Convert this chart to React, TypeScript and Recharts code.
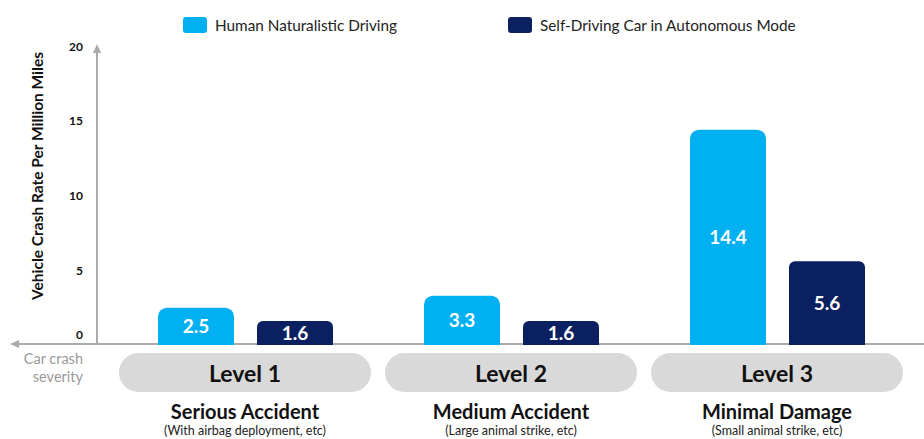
import React from 'react';
import { BarChart, Bar, XAxis, YAxis, Legend, LabelList } from 'recharts';

const levels = ['Level 1', 'Level 2', 'Level 3'];
const titles = ['Serious Accident', 'Medium Accident', 'Minimal Damage'];
const subtitles = ['(With airbag deployment, etc)', '(Large animal strike, etc)', '(Small animal strike, etc)'];
const humanRates = [2.5, 3.3, 14.4];
const selfDrivingRates = [1.6, 1.6, 5.6];
const yTicks = [0, 5, 10, 15, 20];
const seriesNames = ['Human Naturalistic Driving', 'Self-Driving Car in Autonomous Mode'];

const LIGHT = '#00B0F0';
const DARK = '#0B2060';
const AXIS = '#AAAAAA';
const FONT = 'Lato, "Open Sans", sans-serif';

const data = levels.map((l, i) => ({
  level: l,
  title: titles[i],
  subtitle: subtitles[i],
  human: humanRates[i],
  self: selfDrivingRates[i],
}));

const XTick = (props: any) => {
  const { x, y, payload, index } = props;
  const d = data[index] || data.find((r) => r.level === payload.value);
  return (
    <g>
      <rect x={x - 126} y={y + 8} width={252} height={39} rx={19.5} ry={19.5} fill="#D9D9D9" />
      <text x={x} y={y + 28} textAnchor="middle" dominantBaseline="central" fontSize={23} fontWeight={700} fill="#111" fontFamily={FONT}>
        {payload.value}
      </text>
      <text x={x} y={y + 66} textAnchor="middle" dominantBaseline="central" fontSize={20} fontWeight={700} fill="#111" fontFamily={FONT}>
        {d ? d.title : ''}
      </text>
      <text x={x} y={y + 85} textAnchor="middle" dominantBaseline="central" fontSize={12.5} fill="#222" fontFamily={FONT}>
        {d ? d.subtitle : ''}
      </text>
    </g>
  );
};

const YTick = (props: any) => {
  const { x, y, payload } = props;
  const dy = payload.value === 0 ? -11 : 0;
  return (
    <text x={x} y={y + dy} textAnchor="end" dominantBaseline="central" fontSize={12} fontWeight={700} fill="#111" fontFamily={FONT}>
      {payload.value}
    </text>
  );
};

const LegendContent = () => (
  <div style={{ position: 'relative', width: 924, height: 30, fontFamily: FONT }}>
    {[{ left: 183, color: LIGHT, name: seriesNames[0] }, { left: 508, color: DARK, name: seriesNames[1] }].map((it) => (
      <div key={it.name} style={{ position: 'absolute', left: it.left, top: 0, display: 'flex', alignItems: 'center', height: 16 }}>
        <div style={{ width: 24, height: 16, borderRadius: 3, background: it.color, marginRight: 8 }} />
        <span style={{ fontSize: 15.3, color: '#222', lineHeight: '16px', whiteSpace: 'nowrap' }}>{it.name}</span>
      </div>
    ))}
  </div>
);

export default function App() {
  return (
    <div style={{ position: 'absolute', left: 0, top: 0, background: '#fff' }}>
      <BarChart
        width={924}
        height={439}
        data={data}
        margin={{ top: 46, right: 0, bottom: 0, left: 0 }}
        barSize={76}
        barGap={23}
      >
        <Legend
          verticalAlign="middle"
          align="center"
          layout="horizontal"
          content={<LegendContent />}
          wrapperStyle={{ top: 17, left: 0, width: 924 }}
        />
        <XAxis
          dataKey="level"
          axisLine={false}
          tickLine={false}
          tickSize={0}
          tickMargin={0}
          height={94}
          padding={{ left: 15, right: 14 }}
          tick={<XTick />}
          interval={0}
        />
        <YAxis
          domain={[0, 20]}
          ticks={yTicks}
          width={97}
          axisLine={false}
          tickLine={false}
          tickSize={0}
          tickMargin={14}
          tick={<YTick />}
          label={{
            content: () => (
              <text x={37} y={176} transform="rotate(-90 37 176)" textAnchor="middle" dominantBaseline="central" fontSize={15.5} fontWeight={700} fill="#111" fontFamily={FONT}>
                Vehicle Crash Rate Per Million Miles
              </text>
            ),
          }}
        />
        <Bar dataKey="human" name={seriesNames[0]} fill={LIGHT} radius={[9, 9, 0, 0]} isAnimationActive={false}>
          <LabelList dataKey="human" position="center" fill="#fff" fontSize={19} fontWeight={700} fontFamily={FONT} formatter={(v: any) => Number(v).toFixed(1)} />
        </Bar>
        <Bar dataKey="self" name={seriesNames[1]} fill={DARK} radius={[6, 6, 0, 0]} isAnimationActive={false}>
          <LabelList dataKey="self" position="center" fill="#fff" fontSize={19} fontWeight={700} fontFamily={FONT} formatter={(v: any) => Number(v).toFixed(1)} />
        </Bar>
        <g>
          <line x1={97} y1={345} x2={97} y2={50} stroke={AXIS} strokeWidth={2} />
          <path d="M97 44 L93 53 L101 53 Z" fill={AXIS} />
          <line x1={16} y1={344} x2={924} y2={344} stroke={AXIS} strokeWidth={2} />
          <path d="M10 344 L19 340 L19 348 Z" fill={AXIS} />
          <text x={83} y={358} textAnchor="end" dominantBaseline="central" fontSize={14.5} fill="#9A9A9A" fontFamily={FONT}>Car crash</text>
          <text x={83} y={376} textAnchor="end" dominantBaseline="central" fontSize={14.5} fill="#9A9A9A" fontFamily={FONT}>severity</text>
        </g>
      </BarChart>
    </div>
  );
}
